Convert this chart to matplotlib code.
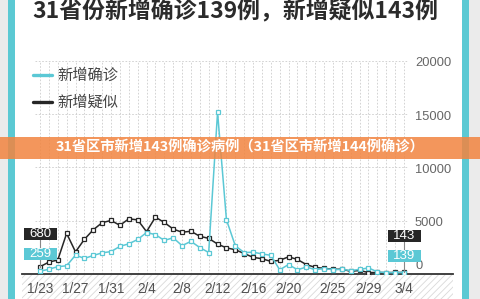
import numpy as np
import pandas as pd
import matplotlib.pyplot as plt
from matplotlib.patches import Rectangle
from matplotlib.lines import Line2D

plt.rcParams['font.family'] = ['Liberation Sans', 'Noto Sans CJK SC', 'DejaVu Sans']
plt.rcParams['hatch.linewidth'] = 0.6

# daily data, 1/23 - 3/4
dates = [f"{d.month}/{d.day}" for d in pd.date_range("2020-01-23", "2020-03-04")]
confirmed = [259, 444, 688, 769, 1771, 1459, 1737, 1982, 2102, 2590, 2829, 3235,
             3887, 3694, 3143, 3399, 2656, 3062, 2478, 2015, 15152, 5090, 2641,
             2009, 2048, 1886, 1749, 394, 889, 397, 648, 409, 508, 406, 433, 327,
             427, 573, 202, 125, 119, 139]
suspected = [680, 1118, 1309, 3806, 2077, 3248, 4148, 4812, 5019, 4562, 5173, 5072,
             3971, 5328, 4833, 4214, 3916, 4008, 3536, 3342, 2807, 2450, 2277,
             1918, 1563, 1432, 1185, 1277, 1614, 1361, 882, 620, 530, 439, 452, 248,
             335, 132, 141, 129, 143, 143]
tick_dates = ["1/23", "1/27", "1/31", "2/4", "2/8", "2/12", "2/16", "2/20",
              "2/25", "2/29", "3/4"]
y_ticks = [0, 5000, 10000, 15000, 20000]

title = "31省份新增确诊139例，新增疑似143例"
banner = "31省区市新增143例确诊病例（31省区市新增144例确诊）"
series_names = ["新增确诊", "新增疑似"]

TEAL = "#5BC8D5"
DARK = "#262626"
CJK = ['Noto Sans CJK SC', 'DejaVu Sans']

W, H = 480, 299


def fx(px):
    return px / W


def fy(py):
    return 1 - py / H


fig = plt.figure(figsize=(W / 100, H / 100), dpi=100)
fig.patch.set_facecolor("#ebebeb")

# card background and teal side bars
fig.patches.append(Rectangle((fx(14), 0), fx(448), 1, transform=fig.transFigure,
                             facecolor="white", lw=0, zorder=-2))
for left in (8, 462):
    fig.patches.append(Rectangle((fx(left), 0), fx(7), 1, transform=fig.transFigure,
                                 facecolor="#5BC9D3", lw=0, zorder=-2))

# hatched band under the x axis
fig.patches.append(Rectangle((fx(22), 0), fx(431), 24 / H, transform=fig.transFigure,
                             facecolor="white", edgecolor="#d9d9d9", hatch="/////",
                             lw=0, zorder=-1))

fig.text(fx(235), fy(11.5), title, ha="center", va="center", fontsize=16.5,
         color="#2b2b2b", weight="bold", family=CJK)

# plot area
ax = fig.add_axes([fx(22), 25 / H, fx(431), 224 / H])
ax.set_facecolor("none")
x = np.arange(len(dates))
px_day = 364 / 41
ax.set_xlim(-18 / px_day, 41 + 49 / px_day)
ax.set_ylim(0, 224 * 93.75)
for s in ["top", "left", "right"]:
    ax.spines[s].set_visible(False)
ax.spines["bottom"].set_color("#333333")
ax.spines["bottom"].set_linewidth(1.3)
ax.set_yticks([])
ax.set_xticks([dates.index(d) for d in tick_dates], tick_dates)
ax.tick_params(axis="x", length=0, pad=5.5, labelsize=9.8, labelcolor="#505050")

# grid
ax.vlines(x, 0, 20000, colors="#cccccc", linestyles=(0, (2, 2)), lw=0.6, zorder=0)
ax.hlines(y_ticks[1:], -5 / px_day, 41 + 4 / px_day, colors="#cccccc",
          linestyles=(0, (2, 2)), lw=0.6, zorder=0)
for v in y_ticks:
    yy = 750 if v == 0 else v - 250
    ax.text(41 + 11 / px_day, yy, str(v), ha="left", va="center", fontsize=9.3,
            color="#666666", clip_on=False)

ax.plot(x, suspected, color=DARK, lw=1.1, marker="s", ms=3.3, mfc="white",
        mec=DARK, mew=0.9, zorder=3)
ax.plot(x, confirmed, color=TEAL, lw=1.1, marker="s", ms=3.3, mfc="white",
        mec=TEAL, mew=0.9, zorder=4)

# value boxes at first and last day
bw, bh = 33 / px_day, 12 * 93.75
for i, yd, yc in [(0, 3750, 1875), (41, 3563, 1688)]:
    ax.plot([i, i], [max(suspected[i], confirmed[i]), yd], color="#888888", lw=0.8,
            zorder=5, clip_on=False)
    for val, yy, col in [(suspected[i], yd, DARK), (confirmed[i], yc, TEAL)]:
        ax.add_patch(Rectangle((i - bw / 2, yy - bh / 2), bw, bh, facecolor=col,
                               lw=0, zorder=6, clip_on=False))
        ax.text(i, yy, str(val), ha="center", va="center", fontsize=9.5,
                color="white", zorder=7, clip_on=False)

# legend
for yy, col, name in [(75.5, TEAL, series_names[0]), (102, DARK, series_names[1])]:
    fig.lines.append(Line2D([fx(33), fx(52)], [fy(yy), fy(yy)], color=col, lw=2.4,
                            solid_capstyle="round", transform=fig.transFigure))
    fig.text(fx(57), fy(yy), name, ha="left", va="center", fontsize=11,
             color="#444444", family=CJK)

# overlay banner
fig.patches.append(Rectangle((0, fy(159)), 1, 22 / H, transform=fig.transFigure,
                             facecolor="#F2843F", alpha=0.85, lw=0, zorder=10))
fig.text(0.5, fy(148), banner, ha="center", va="center", fontsize=10.3,
         color="white", weight="bold", family=CJK, zorder=11)

fig.savefig("out.png", dpi=100)
